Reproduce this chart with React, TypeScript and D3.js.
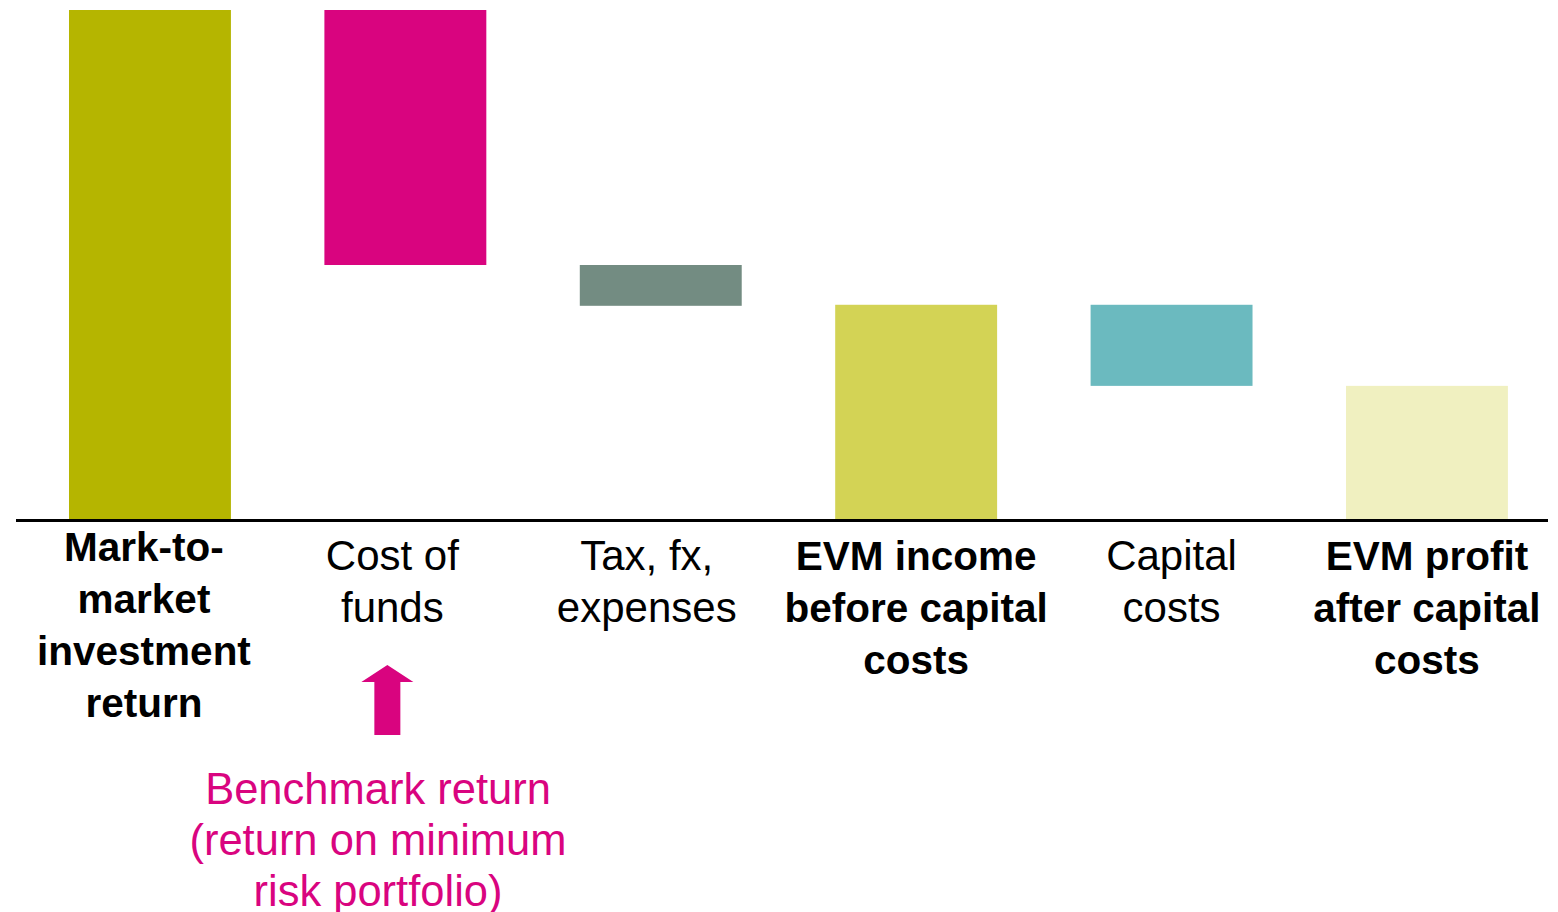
import React from "react";
import * as d3 from "d3";

const categories = ["mtm", "cof", "tax", "evmIncome", "capital", "evmProfit"];
const labels: string[][] = [
  ["Mark-to-", "market", "investment", "return"],
  ["Cost of", "funds"],
  ["Tax, fx,", "expenses"],
  ["EVM income", "before capital", "costs"],
  ["Capital", "costs"],
  ["EVM profit", "after capital", "costs"],
];
const boldLabels = [true, false, false, true, false, true];
// waterfall: "total" bars start at 0, "delta" bars hang from running total
const kinds = ["total", "delta", "delta", "total", "delta", "total"];
const values = [100, -50, -8, 42.2, -15.9, 26.3];
const colors = ["#B5B500", "#D9047F", "#738C82", "#D3D355", "#6BBABF", "#F0F0C0"];
const labelDx = [-6, -13, -14, 0, 0, 0];
const annotation = ["Benchmark return", "(return on minimum", "risk portfolio)"];

const W = 1558;
const H = 912;

export default function App() {
  const x = d3
    .scaleBand<string>()
    .domain(categories)
    .range([16, 16 + 255.4 * (6 - 0.366 + 2 * 0.2075)])
    .paddingInner(0.366)
    .paddingOuter(0.2075);
  const y = d3.scaleLinear().domain([0, 100]).range([520, 10]);

  let running = 0;
  const bars = categories.map((c, i) => {
    let y0: number, y1: number;
    if (kinds[i] === "total") {
      y0 = 0;
      y1 = values[i];
      running = values[i];
    } else {
      y0 = running + values[i];
      y1 = running;
      running = y0;
    }
    return { c, i, lo: Math.min(y0, y1), hi: Math.max(y0, y1) };
  });

  const font = "'Liberation Sans', Arial, sans-serif";
  const lineH = 52;
  const arrowX = (x("cof") as number) + x.bandwidth() / 2 - 18;

  return (
    <svg
      width={W}
      height={H}
      style={{ position: "absolute", left: 0, top: 0, display: "block" }}
      fontFamily={font}
    >
      <rect x={0} y={0} width={W} height={H} fill="#fff" />
      {bars.map((b) => (
        <rect
          key={b.c}
          x={x(b.c)}
          y={y(b.hi)}
          width={x.bandwidth()}
          height={y(b.lo) - y(b.hi)}
          fill={colors[b.i]}
        />
      ))}
      <line x1={16} x2={1548} y1={520.5} y2={520.5} stroke="#000" strokeWidth={3} />
      {labels.map((ls, i) => {
        const cx = (x(categories[i]) as number) + x.bandwidth() / 2 + labelDx[i];
        const startY = ls.length === 4 ? 561 : 570;
        return (
          <text
            key={i}
            textAnchor="middle"
            fontSize={boldLabels[i] ? 40.5 : 42}
            fontWeight={boldLabels[i] ? "bold" : "normal"}
            fill="#000"
          >
            {ls.map((l, j) => (
              <tspan key={j} x={cx} y={startY + j * lineH}>
                {l}
              </tspan>
            ))}
          </text>
        );
      })}
      <path
        d={`M${arrowX},665 L${arrowX + 26},682 L${arrowX + 13},682 L${arrowX + 13},735 L${arrowX - 13},735 L${arrowX - 13},682 L${arrowX - 26},682 Z`}
        fill="#D9047F"
      />
      <text textAnchor="middle" fontSize={43.5} fill="#D9047F">
        {annotation.map((l, j) => (
          <tspan key={j} x={378} y={804 + j * 51}>
            {l}
          </tspan>
        ))}
      </text>
    </svg>
  );
}
